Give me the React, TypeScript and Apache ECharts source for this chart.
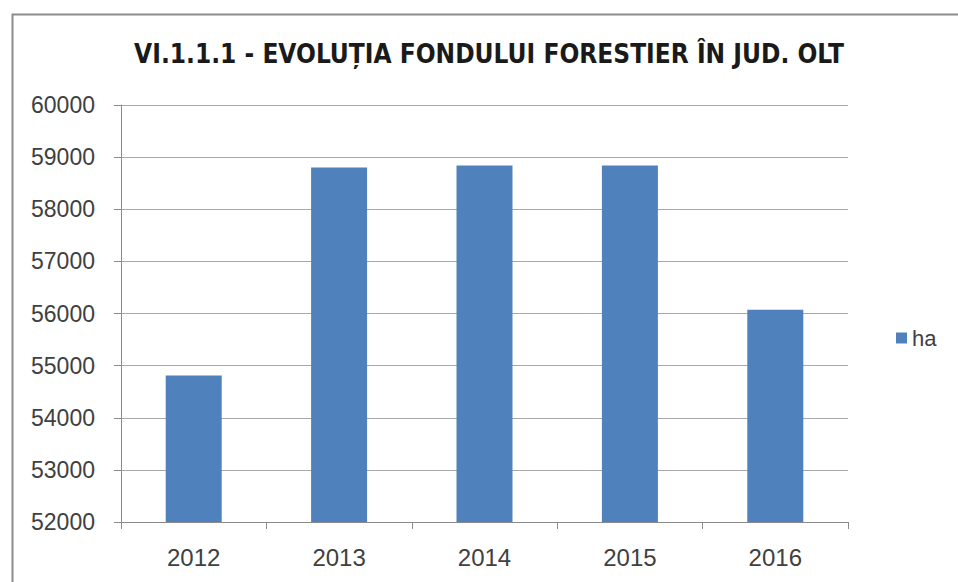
import React, { useEffect, useRef } from "react";
import * as echarts from "echarts";

const categories = ["2012", "2013", "2014", "2015", "2016"];
const haValues = [54810, 58800, 58840, 58840, 56070];
const seriesName = "ha";
const titleText = "VI.1.1.1 - EVOLUȚIA FONDULUI FORESTIER ÎN JUD. OLT";
const yMin = 52000;
const yMax = 60000;
const yStep = 1000;

export default function App() {
  const ref = useRef<HTMLDivElement>(null);
  useEffect(() => {
    if (!ref.current) return;
    const chart = echarts.init(ref.current, null, { renderer: "svg" });
    const labelFont = "'Liberation Sans', 'Open Sans', sans-serif";
    chart.setOption({
      animation: false,
      backgroundColor: "#ffffff",
      graphic: [
        {
          type: "rect",
          left: 10,
          top: 12,
          shape: { x: 0, y: 0, width: 1000, height: 620 },
          style: { fill: "none", stroke: "#8c8c8c", lineWidth: 2 },
          silent: true,
          z: -1,
        },
      ],
      title: {
        text: titleText,
        left: 484,
        textAlign: "center",
        top: 36,
        textStyle: {
          fontFamily: "'Liberation Sans Narrow', 'DejaVu Sans Condensed', 'Open Sans', sans-serif",
          fontWeight: "bold",
          fontSize: 26,
          color: "#1a1a1a",
        },
      },
      legend: {
        data: [seriesName],
        left: 891,
        top: 322,
        orient: "vertical",
        icon: "rect",
        itemWidth: 11,
        itemHeight: 11,
        itemGap: 8,
        textStyle: { fontFamily: labelFont, fontSize: 22, color: "#404040" },
      },
      grid: { left: 121, right: 110, top: 105, bottom: 60, containLabel: false },
      xAxis: {
        type: "category",
        data: categories,
        axisLine: { show: true, lineStyle: { color: "#8a8a8a", width: 1 } },
        axisTick: { show: true, alignWithLabel: false, length: 7, lineStyle: { color: "#8a8a8a" } },
        axisLabel: { fontFamily: labelFont, fontSize: 24, color: "#404040", margin: 23 },
      },
      yAxis: {
        type: "value",
        min: yMin,
        max: yMax,
        interval: yStep,
        axisLine: { show: true, lineStyle: { color: "#8a8a8a", width: 1 } },
        axisTick: { show: true, length: 7, lineStyle: { color: "#8a8a8a" } },
        splitLine: { show: true, lineStyle: { color: "#a8a8a8", width: 1 } },
        axisLabel: {
          fontFamily: labelFont,
          fontSize: 23,
          color: "#404040",
          margin: 26,
          formatter: (v: number) => String(v),
        },
      },
      series: [
        {
          name: seriesName,
          type: "bar",
          data: haValues,
          barWidth: 56,
          itemStyle: { color: "#4F81BD" },
        },
      ],
    });
    return () => chart.dispose();
  }, []);
  return (
    <div
      ref={ref}
      style={{ position: "fixed", left: 0, top: 0, width: 958, height: 582 }}
    />
  );
}
